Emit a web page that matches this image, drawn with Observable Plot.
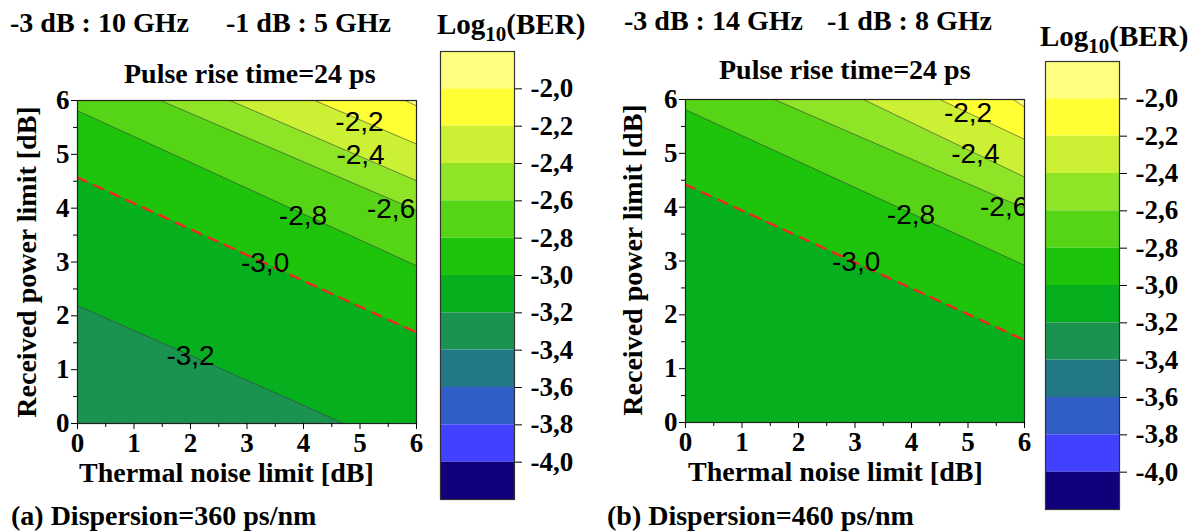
<!DOCTYPE html>
<html><head><meta charset="utf-8">
<script src="https://cdn.jsdelivr.net/npm/d3@7"></script>
<script src="https://cdn.jsdelivr.net/npm/@observablehq/plot@0.6"></script>
<style>
body{margin:0;background:#fff;}
#root{position:relative;width:1203px;height:531px;overflow:hidden;font-family:"Liberation Serif","Times New Roman",serif;font-weight:bold;color:#000;}
.t{position:absolute;white-space:nowrap;font-size:28px;line-height:1;}
.t sub{font-size:21px;vertical-align:-7px;line-height:0;}
.big{font-size:29px;}
.rot{transform-origin:center center;transform:translate(-50%,-50%) rotate(-90deg);}
</style></head><body><div id="root"></div>
<script>
// ---------------- data ----------------
const axisTicks = [0, 1, 2, 3, 4, 5, 6];
const minorTicks = [0.5, 1.5, 2.5, 3.5, 4.5, 5.5];
const bandEdges = [-1.8, -2.0, -2.2, -2.4, -2.6, -2.8, -3.0, -3.2, -3.4, -3.6, -3.8, -4.0, -4.2];
const bandColors = ["#ffff80", "#ffff33", "#ccf033", "#8fe428", "#55d516", "#1ec40c", "#06af1e", "#1b9350", "#237887", "#315dc6", "#4141ff", "#10007c"];
const colorbarTicks = [-2.0, -2.2, -2.4, -2.6, -2.8, -3.0, -3.2, -3.4, -3.6, -3.8, -4.0];

// Panel (a): contour lines of Log10(BER)
const aLevel = [-2.0, -2.2, -2.4, -2.6, -2.8, -3.0, -3.2];
const aLineX = [[5.8, 6], [4.2, 6], [2.7, 6], [1.47, 6], [0, 6], [0, 6], [0, 3.8, 4.71]];
const aLineY = [[6, 5.9], [6, 5.19], [6, 4.51], [6, 3.96], [5.81, 2.93], [4.57, 1.69], [2.19, 0.43, 0]];
const aLabelLevel = [-2.2, -2.4, -2.6, -2.8, -3.0, -3.2];
const aLabelX = [4.99, 5.01, 5.55, 3.99, 3.32, 2.0];
const aLabelY = [5.60, 4.98, 3.99, 3.86, 2.99, 1.26];

// Panel (b)
const bLevel = [-2.0, -2.2, -2.4, -2.6, -2.8, -3.0];
const bLineX = [[5.8, 6], [4.5, 6], [3.15, 6], [1.57, 6], [0, 6], [0, 6]];
const bLineY = [[6, 5.86], [6, 5.26], [6, 4.56], [6, 3.98], [5.81, 2.92], [4.42, 1.53]];
const bLabelLevel = [-2.2, -2.4, -2.6, -2.8, -3.0];
const bLabelX = [5.0, 5.13, 5.64, 3.99, 3.02];
const bLabelY = [5.74, 4.99, 4.0, 3.85, 2.98];

// ---------------- helpers ----------------
const fmt = d => d.toFixed(1).replace(".", ",");
const colorIdx = L => bandEdges.findIndex(e => Math.abs(e - L) < 1e-9);
const colorBelow = L => bandColors[colorIdx(L)];
const colorAbove = L => bandColors[colorIdx(L) - 1];
const serif = '"Liberation Serif","Times New Roman",serif';
const sans = '"Liberation Sans",Arial,sans-serif';

function panel(levels, lineX, lineY, labLevel, labX, labY, opts) {
  const marks = [];
  marks.push(Plot.frame({fill: colorAbove(levels[0]), stroke: null}));
  levels.forEach((L, i) => {
    const poly = lineX[i].map((x, j) => ({x, y: lineY[i][j]}));
    if (poly[0].x > 0 && poly[0].y >= 6) poly.unshift({x: 0, y: 6});
    if (poly[poly.length - 1].x < 6 && poly[poly.length - 1].y <= 0) poly.push({x: 6, y: 0});
    marks.push(Plot.areaY(poly, {x: "x", y1: 0, y2: "y", fill: colorBelow(L), clip: true}));
  });
  levels.forEach((L, i) => {
    const pts = lineX[i].map((x, j) => ({x, y: lineY[i][j]}));
    if (Math.abs(L + 3.0) < 1e-9) {
      marks.push(Plot.line(pts, {x: "x", y: "y", stroke: "#ee2a1f", strokeWidth: 2.4, strokeDasharray: "10,8", clip: true}));
    } else {
      marks.push(Plot.line(pts, {x: "x", y: "y", stroke: "#3c3c3c", strokeWidth: 0.7, strokeOpacity: 0.8, clip: true}));
    }
  });
  const labs = labLevel.map((L, i) => ({t: fmt(L), x: labX[i], y: labY[i]}));
  marks.push(Plot.text(labs, {x: "x", y: "y", text: "t", fontFamily: sans, fontSize: 28, fontWeight: "normal", fill: "#000", clip: true}));
  marks.push(Plot.frame({stroke: "#222", strokeWidth: 1.2}));
  marks.push(Plot.axisX({ticks: axisTicks, tickSize: 6, tickPadding: 3, fontSize: 27, fontFamily: serif, fontWeight: "bold", label: null, tickFormat: d => String(d)}));
  marks.push(Plot.axisX({ticks: minorTicks, tickSize: 4, text: null, label: null}));
  marks.push(Plot.axisY({ticks: axisTicks, tickSize: 6, tickPadding: 2, fontSize: 27, fontFamily: serif, fontWeight: "bold", label: null, tickFormat: d => String(d)}));
  marks.push(Plot.axisY({ticks: minorTicks, tickSize: 4, text: null, label: null}));
  return Plot.plot({
    width: opts.width, height: opts.height,
    marginLeft: opts.ml, marginRight: opts.mr, marginTop: opts.mt, marginBottom: opts.mb,
    x: {domain: [0, 6]}, y: {domain: [0, 6]},
    style: {fontFamily: serif, fontWeight: "bold", background: "transparent", overflow: "visible"},
    marks
  });
}

function colorbar(opts) {
  const bands = bandColors.map((c, i) => ({hi: bandEdges[i], lo: bandEdges[i + 1], c}));
  return Plot.plot({
    width: opts.width, height: opts.height,
    marginLeft: opts.ml, marginRight: opts.mr, marginTop: opts.mt, marginBottom: opts.mb,
    x: {domain: [0, 1], axis: null},
    y: {domain: [-4.2, -1.8]},
    style: {fontFamily: serif, fontWeight: "bold", background: "transparent", overflow: "visible"},
    marks: [
      Plot.rect(bands, {x1: 0, x2: 1, y1: "lo", y2: "hi", fill: "c"}),
      Plot.frame({stroke: "#333", strokeWidth: 1.2}),
      Plot.axisY({anchor: "right", ticks: colorbarTicks, tickSize: 7, tickPadding: 9, fontSize: 27, fontFamily: serif, fontWeight: "bold", label: null, tickFormat: fmt})
    ]
  });
}

const root = document.getElementById("root");
function place(node, left, top) {
  node.style.position = "absolute"; node.style.left = left + "px"; node.style.top = top + "px";
  root.appendChild(node);
}
function text(html, left, top, cls) {
  const d = document.createElement("div");
  d.className = "t" + (cls ? " " + cls : "");
  d.innerHTML = html; d.style.left = left + "px"; d.style.top = top + "px";
  root.appendChild(d);
}

// panel (a)
place(panel(aLevel, aLineX, aLineY, aLabelLevel, aLabelX, aLabelY, {width: 425, height: 400, ml: 77, mr: 9, mt: 20, mb: 57}), 0, 80);
place(colorbar({width: 160, height: 468, ml: 10, mr: 76, mt: 10, mb: 10}), 430, 41);
// panel (b)
place(panel(bLevel, bLineX, bLineY, bLabelLevel, bLabelX, bLabelY, {width: 430, height: 400, ml: 85, mr: 6, mt: 19, mb: 58}), 600, 80);
place(colorbar({width: 160, height: 468, ml: 10, mr: 76, mt: 10, mb: 10}), 1035, 51);

// texts
text("-3 dB : 10 GHz", 10, 9);
text("-1 dB : 5 GHz", 226, 9);
text("Log<sub>10</sub>(BER)", 437, 10, "big");
text("Pulse rise time=24 ps", 124, 60);
text("Thermal noise limit [dB]", 79, 459);
text("Received power limit [dB]", 27, 262, "rot");
text("(a) Dispersion=360 ps/nm", 11, 502);

text("-3 dB : 14 GHz", 624, 7);
text("-1 dB : 8 GHz", 827, 7);
text("Log<sub>10</sub>(BER)", 1040, 22, "big");
text("Pulse rise time=24 ps", 719, 56);
text("Thermal noise limit [dB]", 688, 458);
text("Received power limit [dB]", 633, 260, "rot");
text("(b) Dispersion=460 ps/nm", 607, 502);
</script></body></html>
